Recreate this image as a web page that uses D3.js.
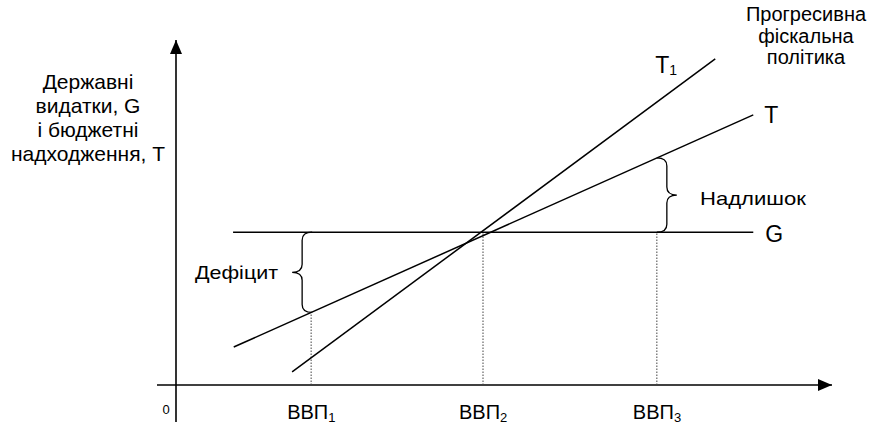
<!DOCTYPE html>
<html>
<head>
<meta charset="utf-8">
<script src="https://cdn.jsdelivr.net/npm/d3@7"></script>
<style>
  body { margin: 0; background: #fff; }
  svg { display: block; font-family: Arial, "Liberation Sans", sans-serif; }
</style>
</head>
<body>
<svg id="chart"></svg>
<script>
const width = 872;
const height = 427;

// схематичні значення (умовні одиниці)
const gLevel = 4.43;
const gRange = [0.87, 8.8];
const tLine = [[0.88, 1.1], [8.8, 7.83]];
const t1Line = [[1.77, 0.38], [8.22, 9.45]];
const gdpPoints = [2.06, 4.68, 7.33];
const gdpLabels = ["1", "2", "3"];

const svg = d3.select("#chart").attr("width", width).attr("height", height);

const x = d3.scaleLinear().domain([0, 10]).range([176, 832]);
const y = d3.scaleLinear().domain([0, 10]).range([385, 40]);

// значення T у довільній точці
const tAt = d3.scaleLinear().domain(tLine.map((d) => d[0])).range(tLine.map((d) => d[1]));

const line = d3.line().x((d) => x(d[0])).y((d) => y(d[1]));

// стрілки
svg.append("defs").append("marker")
  .attr("id", "arrow")
  .attr("viewBox", "0 0 14 12")
  .attr("refX", 14)
  .attr("refY", 6)
  .attr("markerWidth", 14)
  .attr("markerHeight", 12)
  .attr("markerUnits", "userSpaceOnUse")
  .attr("orient", "auto")
  .append("path")
  .attr("d", "M0,0 L14,6 L0,12 Z")
  .attr("fill", "#000");

// осі
svg.append("line")
  .attr("x1", x(0)).attr("y1", 422)
  .attr("x2", x(0)).attr("y2", y(10))
  .attr("stroke", "#000").attr("stroke-width", 1.6)
  .attr("marker-end", "url(#arrow)");

svg.append("line")
  .attr("x1", 157).attr("y1", y(0))
  .attr("x2", x(10)).attr("y2", y(0))
  .attr("stroke", "#000").attr("stroke-width", 1.6)
  .attr("marker-end", "url(#arrow)");

svg.append("text")
  .attr("x", 166).attr("y", 414)
  .attr("text-anchor", "middle")
  .attr("font-size", 13)
  .text("0");

// пунктирні лінії
const dotted = gdpPoints.map((p, i) => ({ p, top: i === 0 ? tAt(p) : gLevel }));
svg.append("g")
  .selectAll("line")
  .data(dotted)
  .join("line")
  .attr("x1", (d) => x(d.p)).attr("x2", (d) => x(d.p))
  .attr("y1", y(0)).attr("y2", (d) => y(d.top))
  .attr("stroke", "#444").attr("stroke-width", 1)
  .attr("stroke-dasharray", "1.5,1.5");

// G, T, T1
svg.append("g")
  .attr("fill", "none")
  .attr("stroke", "#000")
  .attr("stroke-width", 1.5)
  .selectAll("path")
  .data([gRange.map((v) => [v, gLevel]), tLine, t1Line])
  .join("path")
  .attr("d", line);

// фігурні дужки
const brace = (xe, xt, y1, y2) => {
  const xm = (xe + xt) / 2;
  const ym = (y1 + y2) / 2;
  const r = 8;
  return `M${xe},${y1} Q${xm},${y1} ${xm},${y1 + r} L${xm},${ym - r} Q${xm},${ym} ${xt},${ym}` +
    ` Q${xm},${ym} ${xm},${ym + r} L${xm},${y2 - r} Q${xm},${y2} ${xe},${y2}`;
};

svg.append("path")
  .attr("d", brace(x(gdpPoints[0]) + 1, x(gdpPoints[0]) - 19, y(gLevel), y(tAt(gdpPoints[0]))))
  .attr("fill", "none").attr("stroke", "#000").attr("stroke-width", 1.3);

svg.append("path")
  .attr("d", brace(x(gdpPoints[2]), x(gdpPoints[2]) + 20, y(tAt(gdpPoints[2])), y(gLevel)))
  .attr("fill", "none").attr("stroke", "#000").attr("stroke-width", 1.3);

// підписи
const label = (tx, ty, text, size, anchor) =>
  svg.append("text")
    .attr("x", tx).attr("y", ty)
    .attr("font-size", size)
    .attr("text-anchor", anchor || "start")
    .text(text);

label(195, 279, "Дефіцит", 19)
  .attr("textLength", 83).attr("lengthAdjust", "spacingAndGlyphs");
label(700, 205, "Надлишок", 19)
  .attr("textLength", 106).attr("lengthAdjust", "spacingAndGlyphs");

const yTitle = ["Державні", "видатки, G", "і бюджетні", "надходження, T"];
yTitle.forEach((t, i) => label(88, 89 + i * 24, t, 21, "middle"));

const policy = ["Прогресивна", "фіскальна", "політика"];
policy.forEach((t, i) => label(806, 21 + i * 21.5, t, 20, "middle"));

label(x(gRange[1]) + 12, y(gLevel) + 10, "G", 23);
label(x(tLine[1][0]) + 11, y(tLine[1][1]) + 8, "T", 23);

const t1 = label(x(t1Line[1][0]) - 60, y(t1Line[1][1]) + 14, "T", 23);
t1.append("tspan").attr("font-size", 14).attr("dy", 2).text("1");

svg.append("g")
  .selectAll("text")
  .data(gdpPoints)
  .join("text")
  .attr("x", (d) => x(d) - 24)
  .attr("y", 419)
  .attr("font-size", 20)
  .text("ВВП")
  .append("tspan")
  .attr("font-size", 13)
  .attr("dy", 3)
  .text((d, i) => gdpLabels[i]);
</script>
</body>
</html>
